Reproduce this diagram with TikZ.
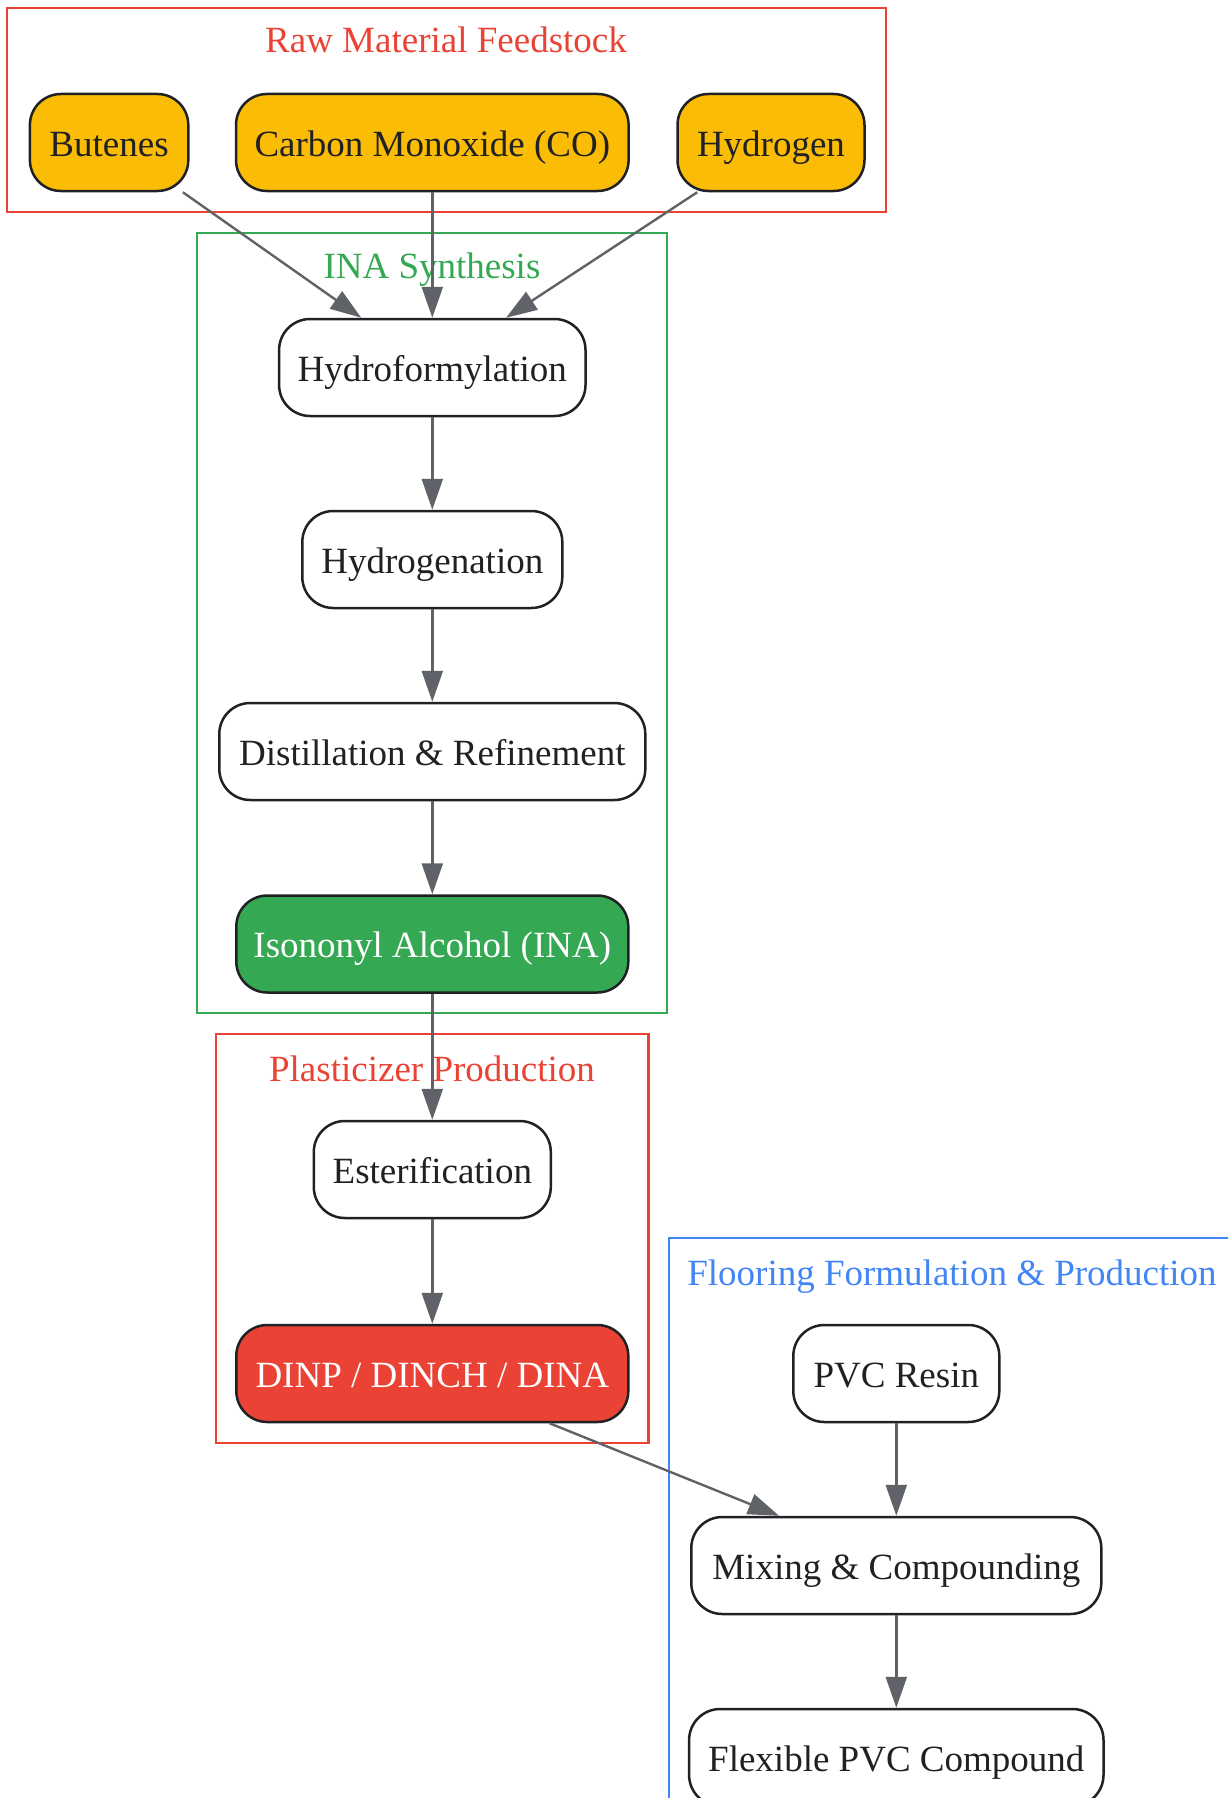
\documentclass[tikz,border=0pt]{standalone}
\usepackage{fontspec}
\setmainfont{Liberation Serif}
\usetikzlibrary{arrows.meta}
\definecolor{gyellow}{HTML}{FBBC05}
\definecolor{ggreen}{HTML}{34A853}
\definecolor{gred}{HTML}{EA4335}
\definecolor{gblue}{HTML}{4285F4}
\definecolor{edgegray}{HTML}{5F6368}
\definecolor{inkdark}{HTML}{202124}
\tikzset{
  proc/.style={draw=inkdark, line width=1.25pt, rounded corners=15.5pt,
    minimum height=48.5pt, inner sep=0pt, text=inkdark,
    text height=13.5pt, text depth=0pt,
    font=\fontsize{18.5pt}{22pt}\selectfont},
  feed/.style={proc, fill=gyellow},
  plain/.style={proc, fill=white},
  inanode/.style={proc, fill=ggreen, text=white},
  dinpnode/.style={proc, fill=gred, text=white},
  cluster/.style={line width=1.2pt},
  clabel/.style={anchor=base, inner sep=0pt, font=\fontsize{18.5pt}{22pt}\selectfont},
  flow/.style={draw=edgegray, line width=1.2pt, -{Triangle[length=15.5pt,width=10.5pt]}}
}
\begin{document}
\begin{tikzpicture}[x=0.5pt,y=-0.5pt]
\useasboundingbox (0,0) rectangle (1228,1798);
\clip (0,0) rectangle (1228,1798);
% clusters
\draw[cluster, draw=gred] (7,8) rectangle (886,212);
\node[clabel, text=gred] (lraw) at (446,53) {Raw Material Feedstock};
\draw[cluster, draw=ggreen] (197,233) rectangle (667,1013);
\node[clabel, text=ggreen] (lina) at (432,278) {INA Synthesis};
\draw[cluster, draw=gred] (216,1034) rectangle (648.5,1443);
\node[clabel, text=gred] (lplas) at (432,1081) {Plasticizer Production};
\draw[cluster, draw=gblue] (669,1238) rectangle (1240,1830);
\node[clabel, text=gblue] (lfloor) at (952,1285) {Flooring Formulation \& Production};
% nodes
\node[feed, minimum width=79.2pt] (but) at (109.1,142.5) {Butenes};
\node[feed, minimum width=196.3pt] (co) at (432.3,142.5) {Carbon Monoxide (CO)};
\node[feed, minimum width=93.5pt] (hyd) at (771,142.5) {Hydrogen};
\node[plain, minimum width=153.2pt] (hf) at (432.3,367.5) {Hydroformylation};
\node[plain, minimum width=130pt] (hg) at (432.3,559.5) {Hydrogenation};
\node[plain, minimum width=213pt] (dist) at (432.3,751.5) {Distillation \& Refinement};
\node[inanode, minimum width=196pt] (ina) at (432.3,944) {Isononyl Alcohol (INA)};
\node[plain, minimum width=118.5pt] (est) at (432.3,1169.5) {Esterification};
\node[dinpnode, minimum width=196pt] (dinp) at (432.3,1373.5) {DINP / DINCH / DINA};
\node[plain, minimum width=103pt] (pvc) at (896.3,1373.5) {PVC Resin};
\node[plain, minimum width=205pt] (mix) at (896.3,1565.5) {Mixing \& Compounding};
\node[plain, minimum width=207.2pt] (flex) at (896.3,1757.5) {Flexible PVC Compound};
% edges
\draw[flow] (but.-34.7) -- (hf.145);
\draw[flow] (co) -- (hf);
\draw[flow] (hyd.-146) -- (hf.34);
\draw[flow] (hf) -- (hg);
\draw[flow] (hg) -- (dist);
\draw[flow] (dist) -- (ina);
\draw[flow] (ina) -- (est);
\draw[flow] (est) -- (dinp);
\draw[flow] (dinp.-23.1) -- (mix.157.3);
\draw[flow] (pvc) -- (mix);
\draw[flow] (mix) -- (flex);
\end{tikzpicture}
\end{document}
